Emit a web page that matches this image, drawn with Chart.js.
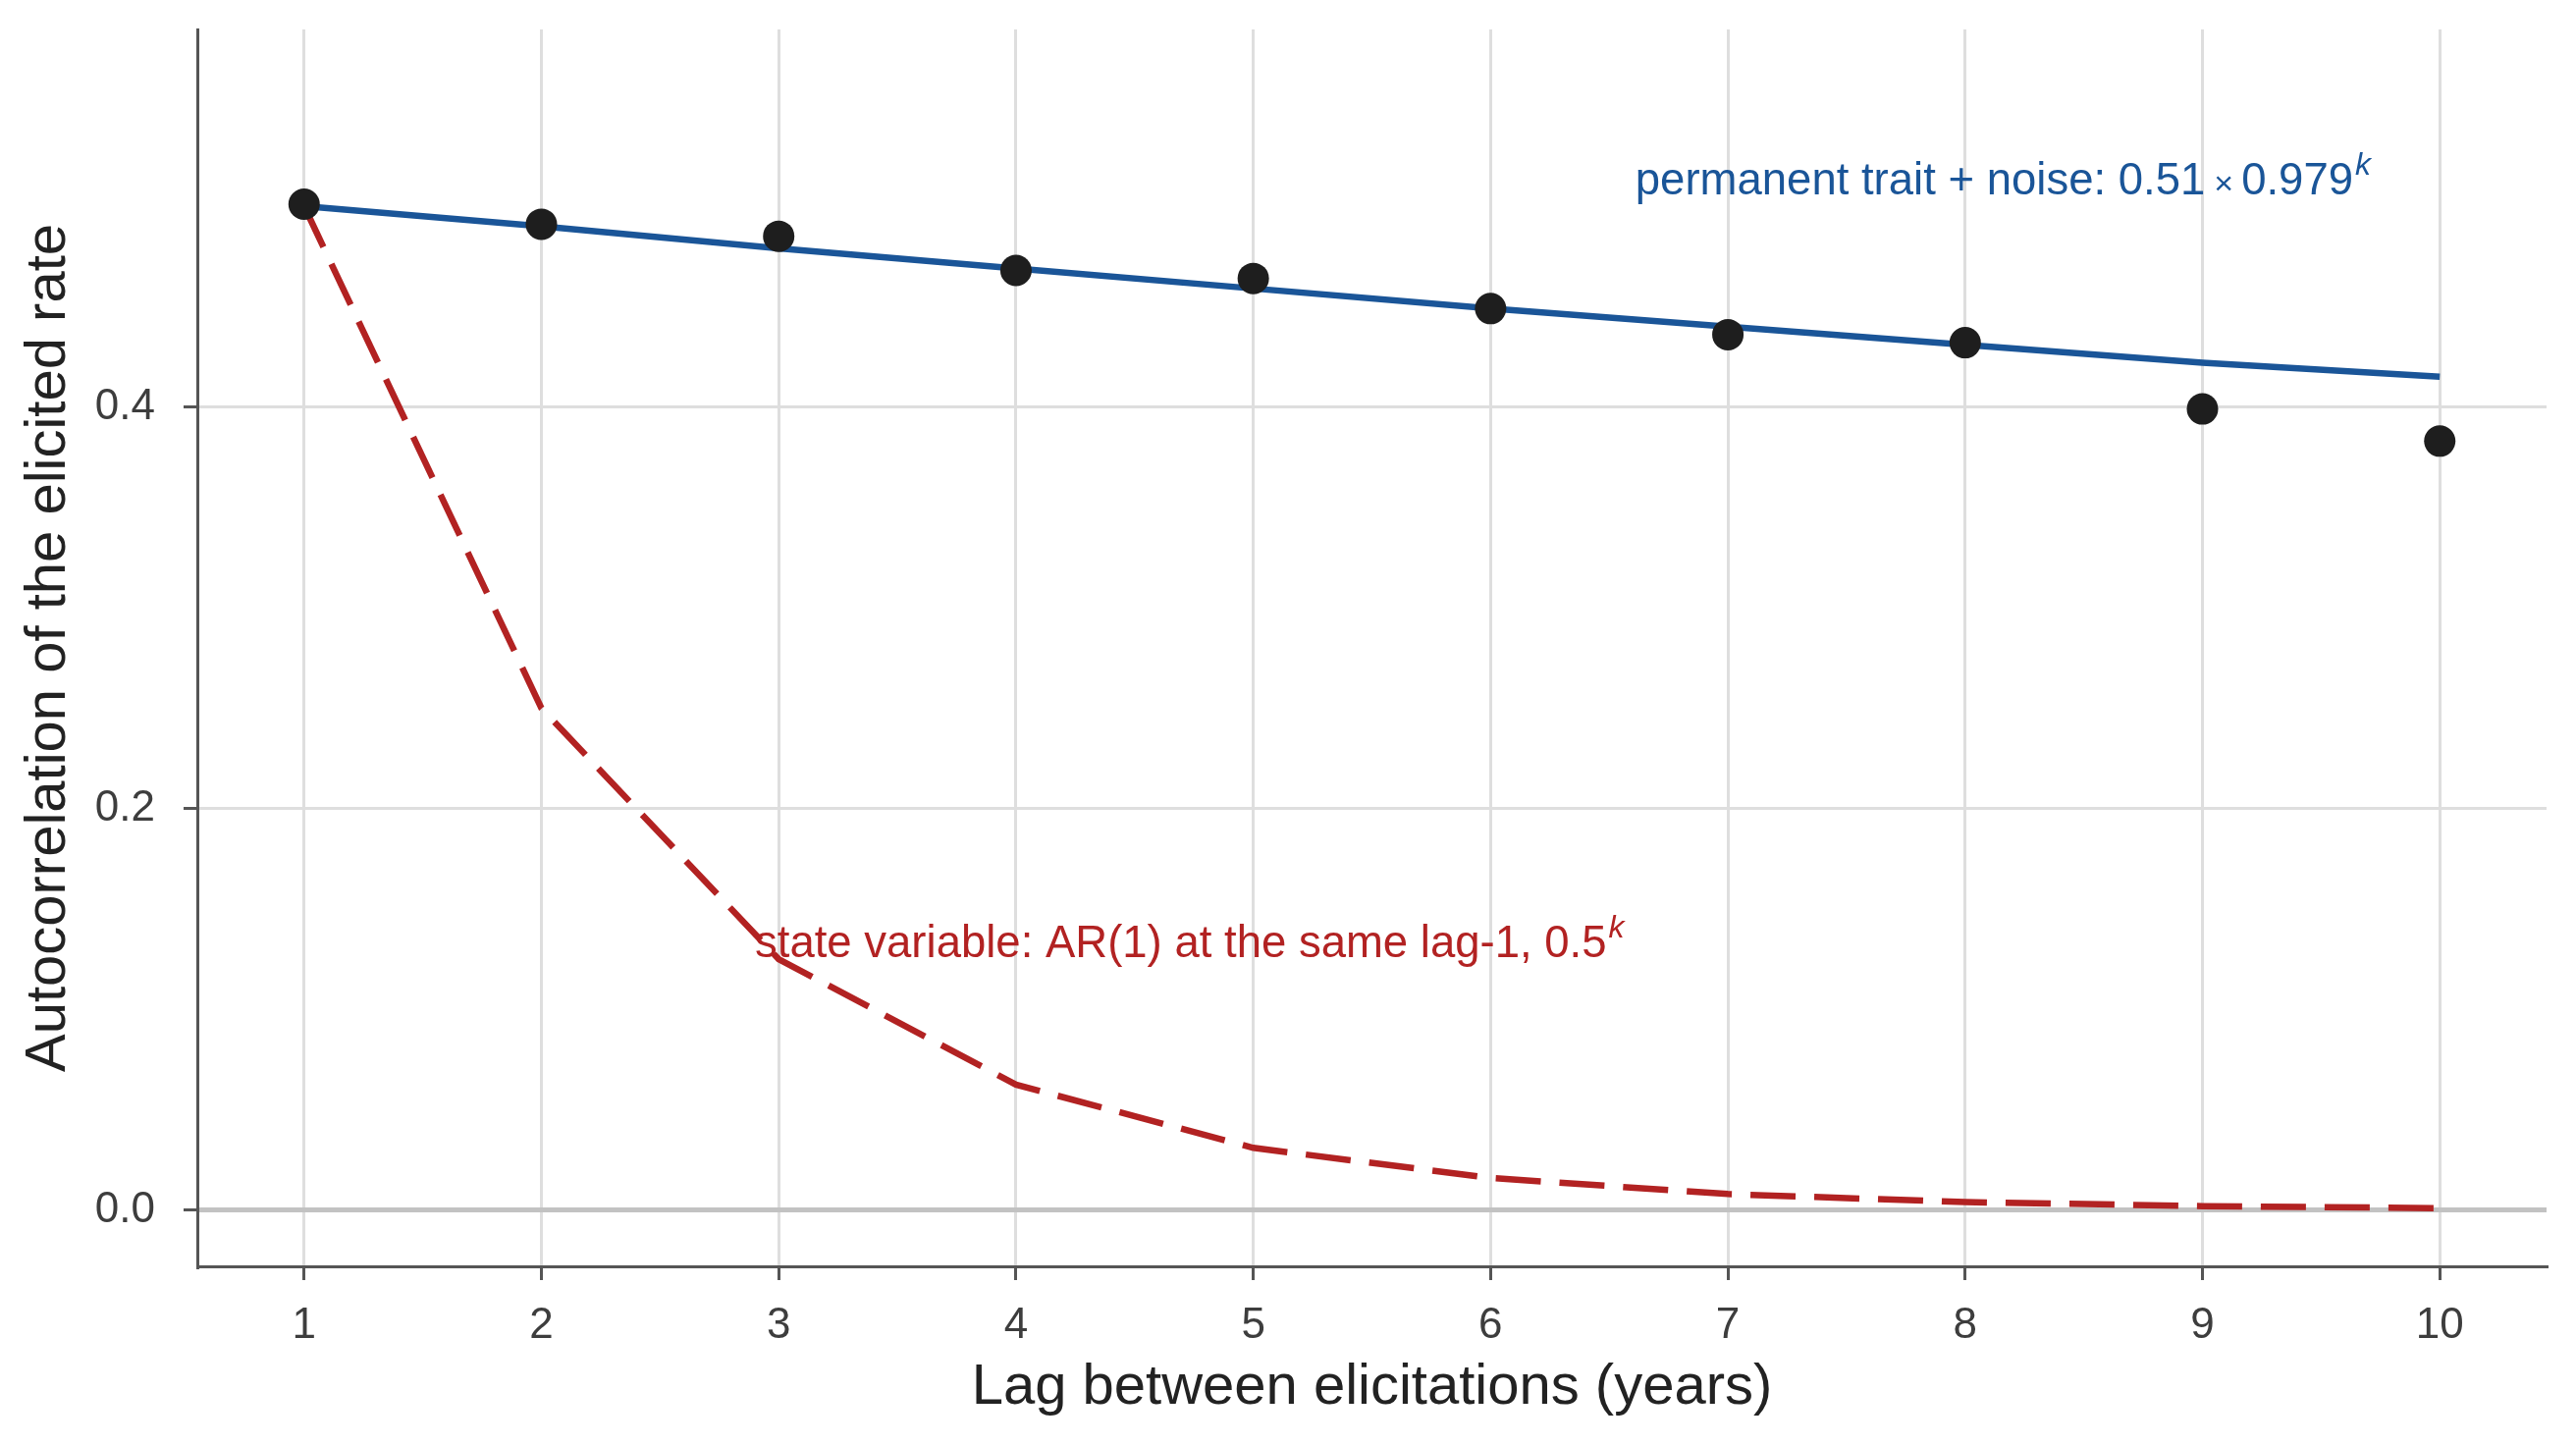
<!DOCTYPE html>
<html>
<head>
<meta charset="utf-8">
<script src="https://cdn.jsdelivr.net/npm/chart.js@4.4.1/dist/chart.umd.min.js"></script>
<style>
  html, body { margin: 0; padding: 0; background: #fff; }
  #wrap { width: 2624px; height: 1472px; }
</style>
</head>
<body>
<div id="wrap"><canvas id="acfChart" width="2624" height="1472"></canvas></div>
<script>
// lag k in years
const lags = [1, 2, 3, 4, 5, 6, 7, 8, 9, 10];
// observed autocorrelation of the elicited rate
const observed = [0.501, 0.491, 0.485, 0.468, 0.464, 0.449, 0.436, 0.432, 0.399, 0.383];
// permanent trait + noise fit
const traitFit = [0.500, 0.490, 0.479, 0.469, 0.459, 0.449, 0.440, 0.431, 0.422, 0.415];
// AR(1) with same lag-1
const ar1Curve = [0.5, 0.25, 0.125, 0.0625, 0.031, 0.016, 0.008, 0.004, 0.002, 0.001];

const xTicks = [1, 2, 3, 4, 5, 6, 7, 8, 9, 10];
const yTicks = [0, 0.2, 0.4];

const xTitle = 'Lag between elicitations (years)';
const yTitle = 'Autocorrelation of the elicited rate';

const FONT = '"Liberation Sans", Arial, Helvetica, sans-serif';
const BLUE = '#1a5598';
const RED = '#b22222';

const toXY = (ys) => lags.map((k, i) => ({ x: k, y: ys[i] }));

// text labels placed in data units
const notes = [
  { x: 6.61, y: 0.506, color: BLUE, parts: [
    { t: 'permanent trait + noise: 0.51', size: 45.5 },
    { t: '\u00d7', size: 34, gapL: 9, gapR: 8 },
    { t: '0.979', size: 45.5 },
    { t: 'k', size: 32, sup: true } ] },
  { x: 2.90, y: 0.126, color: RED, parts: [
    { t: 'state variable: AR(1) at the same lag-1, 0.5', size: 45.5 },
    { t: 'k', size: 32, sup: true } ] }
];

const notePlugin = {
  id: 'notes',
  afterDatasetsDraw(chart) {
    const { ctx, scales } = chart;
    ctx.save();
    ctx.textBaseline = 'alphabetic';
    ctx.textAlign = 'left';
    notes.forEach(n => {
      let px = scales.x.getPixelForValue(n.x);
      const py = scales.y.getPixelForValue(n.y);
      ctx.fillStyle = n.color;
      n.parts.forEach(p => {
        ctx.font = (p.sup ? 'italic ' : '') + p.size + 'px ' + FONT;
        px += p.gapL || 0;
        ctx.fillText(p.t, px + (p.sup ? 2 : 0), p.sup ? py - 20 : py);
        px += ctx.measureText(p.t).width + (p.gapR || 0);
      });
    });
    ctx.restore();
  }
};

new Chart(document.getElementById('acfChart'), {
  type: 'line',
  data: {
    datasets: [
      { type: 'scatter', data: toXY(observed), showLine: false, pointRadius: 16,
        pointBackgroundColor: '#1e1e1e', pointBorderWidth: 0, order: 0 },
      { data: toXY(traitFit), borderColor: BLUE, borderWidth: 6.5, pointRadius: 0,
        tension: 0, fill: false, order: 2 },
      { data: toXY(ar1Curve), borderColor: RED, borderWidth: 6.5, borderDash: [46, 19],
        pointRadius: 0, tension: 0, fill: false, order: 1 }
    ]
  },
  options: {
    responsive: false,
    animation: false,
    devicePixelRatio: 1,
    layout: { padding: { top: 30, right: 30, left: 0, bottom: 0 } },
    plugins: { legend: { display: false }, tooltip: { enabled: false } },
    scales: {
      x: {
        type: 'linear', min: 0.55, max: 10.45,
        afterBuildTicks: axis => { axis.ticks = xTicks.map(v => ({ value: v })); },
        afterFit: axis => { axis.height = 182; axis.paddingLeft = 0; axis.paddingRight = 0; },
        grid: { color: '#dedede', lineWidth: 3, tickLength: 14, tickColor: '#555', tickWidth: 3 },
        border: { display: true, color: '#555', width: 3 },
        ticks: { color: '#3d3d3d', font: { family: FONT, size: 44 }, padding: 20, maxRotation: 0,
                 callback: v => String(v) },
        title: { display: true, text: xTitle, color: '#222', font: { family: FONT, size: 58 },
                 padding: { top: 0, bottom: 23 } }
      },
      y: {
        type: 'linear', min: -0.028, max: 0.588,
        afterBuildTicks: axis => { axis.ticks = yTicks.map(v => ({ value: v })); },
        afterFit: axis => { axis.width = 201; axis.paddingTop = 0; axis.paddingBottom = 0; },
        grid: {
          color: c => (c.tick && c.tick.value === 0 ? '#c2c2c2' : '#dedede'),
          lineWidth: c => (c.tick && c.tick.value === 0 ? 5 : 3),
          tickLength: 14, tickColor: '#555', tickWidth: 3
        },
        border: { display: true, color: '#555', width: 3 },
        ticks: { color: '#3d3d3d', font: { family: FONT, size: 44 }, padding: 29,
                 callback: v => Number(v).toFixed(1) },
        title: { display: true, text: yTitle, color: '#222', font: { family: FONT, size: 58 },
                 padding: { top: 15, bottom: 0 } }
      }
    }
  },
  plugins: [notePlugin]
});
</script>
</body>
</html>
